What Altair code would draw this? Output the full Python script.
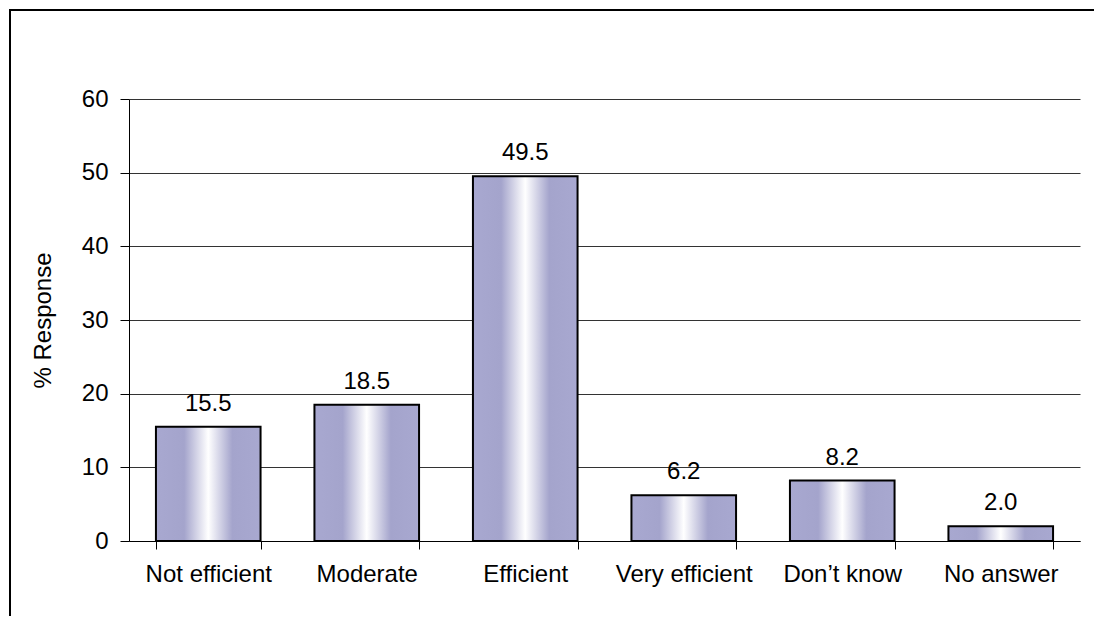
import altair as alt
import pandas as pd

categories = ["Not efficient", "Moderate", "Efficient", "Very efficient", "Don\u2019t know", "No answer"]
values = [15.5, 18.5, 49.5, 6.2, 8.2, 2.0]
y_ticks = [0, 10, 20, 30, 40, 50, 60]

df = pd.DataFrame({"category": categories, "value": values})
one = pd.DataFrame({"a": [0]})

FONT = "Liberation Sans"
FS = 24

gradient = alt.Gradient(
    gradient="linear", x1=0, x2=1, y1=0, y2=0,
    stops=[
        alt.GradientStop(offset=0, color="#A8A8D0"),
        alt.GradientStop(offset=0.27, color="#A4A4CC"),
        alt.GradientStop(offset=0.5, color="#FFFFFF"),
        alt.GradientStop(offset=0.73, color="#A4A4CC"),
        alt.GradientStop(offset=1, color="#A8A8D0"),
    ],
)

x = alt.X(
    "category:N", sort=categories,
    scale=alt.Scale(paddingInner=0.34, paddingOuter=0.17),
    axis=alt.Axis(title=None, labelAngle=0, tickBand="extent", tickSize=8,
                  tickColor="black", domainColor="black", labelPadding=13,
                  labelFont=FONT, labelFontSize=FS, labelColor="black", grid=False),
)
y = alt.Y(
    "value:Q", scale=alt.Scale(domain=[0, 60]),
    axis=alt.Axis(values=y_ticks, title="% Response", tickSize=9, tickColor="black",
                  domainColor="black", grid=True, gridColor="#333333", gridWidth=1,
                  labelPadding=12, labelFont=FONT, labelFontSize=FS, labelColor="black",
                  titleFont=FONT, titleFontSize=FS, titleFontWeight="normal",
                  titleColor="black", titlePadding=26),
)

bars = alt.Chart(df).mark_bar(color=gradient, stroke="black", strokeWidth=2).encode(x=x, y=y)
labels = alt.Chart(df).mark_text(dy=-16, font=FONT, fontSize=FS, color="black",
                                 baseline="alphabetic").encode(
    x=alt.X("category:N", sort=categories),
    y="value:Q",
    text=alt.Text("value:Q", format=".1f"),
)
# decorative outer frame: its right and bottom edges fall outside the canvas
frame = alt.Chart(one).mark_rect(fillOpacity=0, stroke="black", strokeWidth=2).encode(
    x=alt.value(-119), x2=alt.value(1200), y=alt.value(-89), y2=alt.value(800))

chart = alt.layer(bars, labels, frame).properties(
    width=951, height=442,
    autosize="none",
    padding={"left": 121, "top": 91, "right": 14, "bottom": 75},
).configure_view(strokeWidth=0)

chart.save("out.html", embed_options={"renderer": "svg", "actions": False})
